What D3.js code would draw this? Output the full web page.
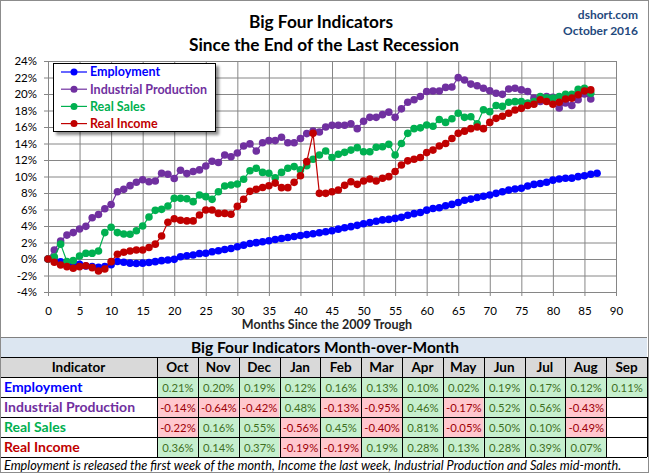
<!DOCTYPE html>
<html><head><meta charset="utf-8">
<script src="https://cdn.jsdelivr.net/npm/d3@7"></script>
<style>
body{margin:0;background:#fff}
svg{display:block}
text{font-family:Lato,"Open Sans",sans-serif}
</style>
</head><body>
<svg id="c" width="649" height="473"></svg>
<script>
// ---------- data (percent change since the June 2009 trough) ----------
const employment = [0,-0.2,-0.35,-0.5,-0.65,-0.65,-0.85,-0.9,-1.0,-0.9,-0.7,-0.3,-0.4,-0.5,-0.55,-0.5,-0.42,-0.32,-0.2,-0.12,
  -0.04,0.28,0.4,0.48,0.66,0.7,0.88,1.0,1.15,1.28,1.48,1.68,1.88,1.98,2.1,2.22,2.36,2.48,2.6,2.72,
  2.85,2.96,3.06,3.18,3.3,3.43,3.62,3.78,3.92,4.08,4.28,4.42,4.58,4.74,4.8,4.92,5.05,5.3,5.5,5.64,
  5.92,6.12,6.22,6.45,6.62,6.85,7.12,7.26,7.45,7.6,7.76,7.96,8.15,8.35,8.48,8.57,8.84,9.04,9.16,9.3,
  9.56,9.7,9.78,9.8,9.98,10.1,10.28,10.4];
const industrialProduction = [0,1.09,2.18,2.9,3.2,3.64,3.96,5.0,5.4,6.1,6.6,8.16,8.44,8.89,9.3,9.6,9.37,9.45,10.4,10.28,
  9.76,10.75,10.35,10.6,10.8,11.28,11.85,11.7,12.6,12.4,12.85,13.7,13.95,13.1,14.1,14.35,14.35,14.75,14.1,14.1,
  14.6,15.2,15.5,15.4,16.0,16.2,16.22,16.22,16.4,15.8,16.7,17.17,17.17,17.5,17.8,17.17,18.2,19.0,19.3,19.7,
  20.3,20.36,20.36,20.8,20.85,21.98,21.7,21.2,21.0,20.7,20.4,20.1,19.96,20.6,20.7,20.5,20.3,19.5,19.1,19.7,
  19.6,18.3,18.9,18.6,19.3,20.0,19.4];
const realSales = [0,0.25,1.8,-0.3,-0.2,0.36,0.69,0.69,0.97,3.2,3.84,3.2,3.03,3.0,3.43,4.0,5.1,5.9,6.02,6.42,
  7.35,7.35,7.3,6.95,7.76,7.56,7.23,8.16,8.85,8.97,9.1,9.66,10.7,11.0,10.5,10.4,9.85,10.5,11.0,11.2,
  10.8,11.3,12.1,12.6,13.1,12.3,12.7,12.93,13.2,13.5,13.0,13.0,13.54,13.6,13.9,12.6,14.0,15.23,15.8,15.9,
  16.24,16.1,16.9,16.56,17.0,17.66,17.17,17.25,16.4,18.1,17.86,18.6,18.5,19.0,19.07,19.07,18.9,19.07,19.7,19.55,
  19.5,19.7,19.96,19.96,20.56,20.7,20.08];
const realIncome = [0,-0.4,-0.73,-0.93,-1.13,-0.93,-0.81,-1.05,-1.45,-1.21,-0.32,0.57,0.81,0.97,1.09,1.09,1.4,1.8,2.79,4.45,
  4.88,4.7,4.62,4.62,5.33,5.94,5.94,5.53,5.53,5.43,6.38,7.25,8.2,8.46,8.67,8.87,9.2,8.65,8.65,9.29,
  10.1,11.8,15.23,7.96,7.96,8.16,8.36,8.93,9.37,9.05,9.45,9.7,9.45,9.78,9.98,10.6,11.4,11.9,12.1,12.3,
  12.9,13.2,13.7,14.0,14.6,15.23,15.5,15.8,16.0,15.8,16.56,17.05,17.3,17.66,18.06,18.26,18.6,18.75,19.3,19.1,
  18.75,19.0,19.4,19.5,19.9,20.36,20.5];

const seriesNames  = ["Employment","Industrial Production","Real Sales","Real Income"];
const seriesColors = ["#0000FF","#7030A0","#00B050","#C00000"];
const seriesData   = [employment, industrialProduction, realSales, realIncome];

const yTicks = [-4,-2,0,2,4,6,8,10,12,14,16,18,20,22,24];
const xTicks = [0,5,10,15,20,25,30,35,40,45,50,55,60,65,70,75,80,85,90];

const tableMonths = ["Oct","Nov","Dec","Jan","Feb","Mar","Apr","May","Jun","Jul","Aug","Sep"];
const momEmployment = [0.21,0.20,0.19,0.12,0.16,0.13,0.10,0.02,0.19,0.17,0.12,0.11];
const momIndProd    = [-0.14,-0.64,-0.42,0.48,-0.13,-0.95,0.46,-0.17,0.52,0.56,-0.43,null];
const momSales      = [-0.22,0.16,0.55,-0.56,0.45,-0.40,0.81,-0.05,0.50,0.10,-0.49,null];
const momIncome     = [0.36,0.14,0.37,-0.19,-0.19,0.19,0.28,0.13,0.28,0.39,0.07,null];
const momRows = [momEmployment, momIndProd, momSales, momIncome];

// ---------- drawing ----------
(function(){
const svg = d3.select("#c");
const W = 649, H = 473;
const pL = 48, pR = 616, pT = 61, pB = 292;
const x = d3.scaleLinear().domain([0,90]).range([pL,pR]);
const y = d3.scaleLinear().domain([-4,24]).range([pB,pT]);

svg.append("rect").attr("x",0).attr("y",0).attr("width",W).attr("height",H).attr("fill","#fff");

// titles
svg.append("text").attr("x",321).attr("y",28).attr("text-anchor","middle")
  .attr("font-size",17.3).attr("font-weight","bold").text("Big Four Indicators");
svg.append("text").attr("x",324).attr("y",51).attr("text-anchor","middle")
  .attr("font-size",17.3).attr("font-weight","bold").text("Since the End of the Last Recession");
svg.append("text").attr("x",638).attr("y",19).attr("text-anchor","end")
  .attr("font-size",12).attr("font-weight","bold").attr("fill","#1F497D").text("dshort.com");
svg.append("text").attr("x",638).attr("y",35).attr("text-anchor","end")
  .attr("font-size",12).attr("font-weight","bold").attr("fill","#1F497D").text("October 2016");

// grid
const g = svg.append("g");
g.append("g").attr("transform",`translate(0,${pB})`)
  .call(d3.axisBottom(x).tickValues(xTicks).tickSize(-(pB-pT)).tickFormat(""))
  .call(s=>{s.select(".domain").remove(); s.selectAll("line").attr("stroke","#868686");});
g.append("g").attr("transform",`translate(${pL},0)`)
  .call(d3.axisLeft(y).tickValues(yTicks).tickSize(-(pR-pL)).tickFormat(""))
  .call(s=>{s.select(".domain").remove(); s.selectAll("line").attr("stroke","#868686");});

// axes with labels
const ax = g.append("g").attr("transform",`translate(${pL},0)`)
  .call(d3.axisLeft(y).tickValues(yTicks).tickSize(4).tickPadding(7).tickFormat(d=>d+"%"));
ax.select(".domain").attr("stroke","#868686");
ax.selectAll("line").attr("stroke","#868686");
ax.selectAll("text").attr("font-size",11.5).attr("fill","#000").attr("font-family","Lato");
const bx = g.append("g").attr("transform",`translate(0,${pB})`)
  .call(d3.axisBottom(x).tickValues(xTicks).tickSize(4).tickPadding(11));
bx.select(".domain").attr("stroke","#868686");
bx.selectAll("line").attr("stroke","#868686");
bx.selectAll("text").attr("font-size",11.5).attr("fill","#000").attr("font-family","Lato");
svg.append("text").attr("x",327).attr("y",329).attr("text-anchor","middle")
  .attr("font-size",12.5).attr("font-weight","bold").attr("fill","#262626").text("Months Since the 2009 Trough");

// series
const line = d3.line().x((d,i)=>x(i)).y(d=>y(d));
seriesData.forEach((arr,k)=>{
  const sg = svg.append("g");
  sg.append("path").datum(arr).attr("d",line).attr("fill","none")
    .attr("stroke",seriesColors[k]).attr("stroke-width",1.2);
  sg.selectAll("circle").data(arr).join("circle")
    .attr("cx",(d,i)=>x(i)).attr("cy",d=>y(d)).attr("r",3.8).attr("fill",seriesColors[k]);
});

// legend
const defs = svg.append("defs");
const f = defs.append("filter").attr("id","sh").attr("x","-10%").attr("y","-10%").attr("width","130%").attr("height","140%");
f.append("feGaussianBlur").attr("in","SourceAlpha").attr("stdDeviation",1.5);
f.append("feOffset").attr("dx",3).attr("dy",3).attr("result","b");
f.append("feComponentTransfer").append("feFuncA").attr("type","linear").attr("slope",0.45);
const fm = f.append("feMerge"); fm.append("feMergeNode"); fm.append("feMergeNode").attr("in","SourceGraphic");
const lg = svg.append("g");
lg.append("rect").attr("x",53.5).attr("y",63.5).attr("width",162).attr("height",68)
  .attr("fill","#fff").attr("stroke","#000").attr("filter","url(#sh)");
seriesNames.forEach((n,k)=>{
  const yy = 72 + k*17.2;
  lg.append("line").attr("x1",61).attr("x2",87).attr("y1",yy).attr("y2",yy).attr("stroke",seriesColors[k]).attr("stroke-width",1.2);
  lg.append("circle").attr("cx",74).attr("cy",yy).attr("r",3.5).attr("fill",seriesColors[k]);
  lg.append("text").attr("x",90).attr("y",yy+4.3).attr("font-size",12.5).attr("font-weight","bold")
    .attr("fill",seriesColors[k]).text(n);
});

// ---------- table ----------
const tTop = 337, rowH = 20, labelW = 157;
const col = d3.scaleBand().domain(tableMonths).range([labelW, 647]);
const tb = svg.append("g");
tb.append("rect").attr("x",0).attr("y",tTop).attr("width",647).attr("height",rowH).attr("fill","#DCE6F1");
tb.append("text").attr("x",325).attr("y",tTop+15.5).attr("text-anchor","middle").attr("font-size",15.5)
  .attr("font-weight","bold").text("Big Four Indicators Month-over-Month");
tb.append("rect").attr("x",0).attr("y",tTop+rowH).attr("width",647).attr("height",rowH).attr("fill","#D9D9D9");
tb.append("text").attr("x",labelW/2).attr("y",tTop+rowH+15).attr("text-anchor","middle").attr("font-size",13.5)
  .attr("font-weight","bold").text("Indicator");
tableMonths.forEach(m=>{
  tb.append("text").attr("x",col(m)+col.bandwidth()/2).attr("y",tTop+rowH+15).attr("text-anchor","middle")
    .attr("font-size",13.5).attr("font-weight","bold").text(m);
});
momRows.forEach((row,r)=>{
  const ry = tTop + rowH*(2+r);
  tb.append("text").attr("x",4).attr("y",ry+15).attr("font-size",14).attr("font-weight","bold")
    .attr("fill",seriesColors[r]).text(seriesNames[r]);
  row.forEach((v,c)=>{
    const cx = col(tableMonths[c]);
    tb.append("rect").attr("x",cx).attr("y",ry).attr("width",col.bandwidth()).attr("height",rowH)
      .attr("fill", v==null ? "#fff" : (v>=0 ? "#C6EFCE" : "#FFC7CE"));
    if (v!=null) tb.append("text").attr("x",cx+col.bandwidth()/2+0.5).attr("y",ry+14.5).attr("text-anchor","middle")
      .attr("font-size",11.3).attr("fill", v>=0 ? "#3F6F1F" : "#9C0006").text(v.toFixed(2)+"%");
  });
});
const lines = tb.append("g").attr("stroke","#000").attr("stroke-width",1);
[tTop, tTop+rowH, tTop+2*rowH, tTop+3*rowH, tTop+4*rowH, tTop+5*rowH, tTop+6*rowH].forEach((yy,i)=>{
  lines.append("line").attr("x1",0).attr("x2",647).attr("y1",yy+0.5).attr("y2",yy+0.5)
    .attr("stroke", i==0 ? "#808080" : "#000");
});
[labelW, ...tableMonths.map(m=>col(m)+col.bandwidth())].forEach(xx=>{
  lines.append("line").attr("x1",Math.round(xx)+0.5).attr("x2",Math.round(xx)+0.5)
    .attr("y1",tTop+rowH).attr("y2",tTop+6*rowH);
});
svg.append("text").attr("x",4).attr("y",470).attr("font-size",12.7).attr("font-style","italic")
  .text("Employment is released the first week of the month, Income the last week, Industrial Production and Sales mid-month.");

svg.append("rect").attr("x",0.5).attr("y",0.5).attr("width",W-1).attr("height",H-1)
  .attr("fill","none").attr("stroke","#8C8C8C");
})();
</script>
</body></html>
